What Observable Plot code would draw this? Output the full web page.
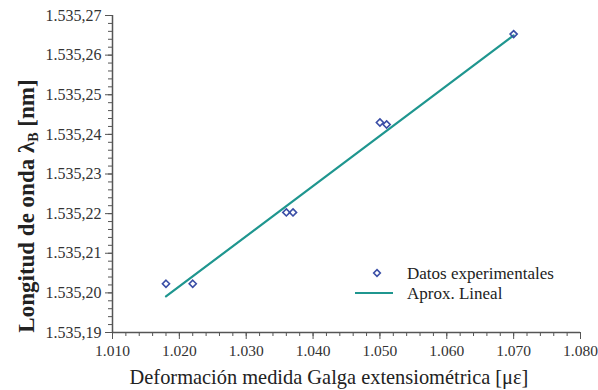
<!DOCTYPE html>
<html>
<head>
<meta charset="utf-8">
<script src="https://cdn.jsdelivr.net/npm/d3@7"></script>
<script src="https://cdn.jsdelivr.net/npm/@observablehq/plot@0.6"></script>
<style>
  html, body { margin: 0; padding: 0; background: #fff; }
  #chart { position: relative; width: 598px; height: 390px; }
  #chart svg text { font-family: "Liberation Serif", "DejaVu Serif", serif; }
</style>
</head>
<body>
<div id="chart"></div>
<script>
// Measured data (strain in µε, Bragg wavelength in nm)
const strain = [1018, 1022, 1036, 1037, 1050, 1051, 1070];
const wavelength = [1535.2023, 1535.2023, 1535.2203, 1535.2203, 1535.2430, 1535.2425, 1535.2653];
// Linear fit line end points
const fitStrain = [1018, 1070];
const fitWavelength = [1535.1991, 1535.2650];
// Ticks
const xTicks = [1010, 1020, 1030, 1040, 1050, 1060, 1070, 1080];
const yTicks = [1535.19, 1535.20, 1535.21, 1535.22, 1535.23, 1535.24, 1535.25, 1535.26, 1535.27];
const xLabel = "Deformación medida Galga extensiométrica [με]";
const yLabelMain = "Longitud de onda λ";
const yLabelSub = "B";
const yLabelEnd = " [nm]";
const legendLabels = ["Datos experimentales", "Aprox. Lineal"];

const blue = "#3a4ea6";
const teal = "#1f968f";
const font = "'Liberation Serif', 'DejaVu Serif', serif";

const es = d3.formatLocale({decimal: ",", thousands: ".", grouping: [3], currency: ["", ""]});
const fx = es.format(",.0f");
const fy = es.format(",.2f");

const points = strain.map((s, i) => ({x: s, y: wavelength[i]}));
const fit = fitStrain.map((s, i) => ({x: s, y: fitWavelength[i]}));

const xMinor = d3.range(1010, 1080.001, 2);
const yMinor = d3.range(0, 41).map(i => 1535.19 + i * 0.002);

const plot = Plot.plot({
  width: 598,
  height: 390,
  marginLeft: 112,
  marginRight: 18,
  marginTop: 15,
  marginBottom: 58,
  style: {fontFamily: font, background: "#fff", color: "#333"},
  x: {domain: [1010, 1080]},
  y: {domain: [1535.19, 1535.27]},
  marks: [
    Plot.axisX({ticks: xMinor, tickSize: 4, tickFormat: () => "", label: null, stroke: "#555"}),
    Plot.axisX({ticks: xTicks, tickSize: 7, tickPadding: 5, tickFormat: fx, label: null, stroke: "#555", fill: "#333", className: "xmajor"}),
    Plot.axisY({ticks: yMinor, tickSize: 4, tickFormat: () => "", label: null, stroke: "#555"}),
    Plot.axisY({ticks: yTicks, tickSize: 7, tickPadding: 4, tickFormat: fy, label: null, stroke: "#555", fill: "#333"}),
    Plot.ruleX([1010], {stroke: "#555", strokeWidth: 1.5}),
    Plot.ruleY([1535.19], {stroke: "#555", strokeWidth: 1.5}),
    Plot.line(fit, {x: "x", y: "y", stroke: teal, strokeWidth: 2.2}),
    Plot.dot(points, {x: "x", y: "y", symbol: "diamond2", r: 3.2, stroke: blue, strokeWidth: 1.6, fill: "none"})
  ]
});

const svg = d3.select(plot);

// Enlarge tick labels
svg.selectAll('g[aria-label="y-axis tick label"]').attr("font-size", 16)
  .selectAll("text").style("font-size", "16px");
svg.selectAll('g[aria-label="x-axis tick label"]').attr("font-size", 15.5)
  .selectAll("text").style("font-size", "15.5px");

// Axis titles
svg.append("text")
  .attr("x", 329).attr("y", 384)
  .attr("text-anchor", "middle")
  .attr("font-size", 20.4)
  .attr("fill", "#222")
  .text(xLabel);

const yt = svg.append("text")
  .attr("transform", "translate(34,206) rotate(-90)")
  .attr("text-anchor", "middle")
  .attr("font-size", 23).attr("font-weight", "bold")
  .attr("fill", "#222");
yt.append("tspan").text(yLabelMain);
yt.append("tspan").attr("font-size", 14).attr("dy", 4).text(yLabelSub);
yt.append("tspan").attr("dy", -4).text(yLabelEnd);

// Legend
const lg = svg.append("g").attr("text-anchor", "start");
lg.append("path")
  .attr("d", d3.symbol(d3.symbolDiamond2, 28)())
  .attr("transform", "translate(377,273)")
  .attr("fill", "none").attr("stroke", blue).attr("stroke-width", 1.6);
lg.append("text").attr("x", 407).attr("y", 279)
  .attr("font-size", 17).attr("fill", "#222")
  .text(legendLabels[0]);
lg.append("line").attr("x1", 355).attr("x2", 393).attr("y1", 293).attr("y2", 293)
  .attr("stroke", teal).attr("stroke-width", 2.2);
lg.append("text").attr("x", 407).attr("y", 299)
  .attr("font-size", 17).attr("fill", "#222")
  .text(legendLabels[1]);

document.getElementById("chart").appendChild(plot);
</script>
</body>
</html>
